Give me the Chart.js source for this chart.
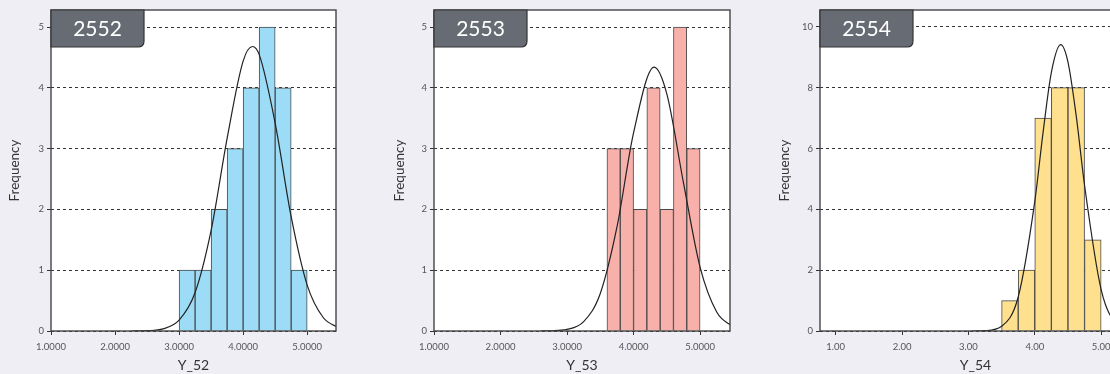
<!DOCTYPE html>
<html>
<head>
<meta charset="utf-8">
<script src="https://cdn.jsdelivr.net/npm/chart.js@4.4.1/dist/chart.umd.min.js"></script>
<style>
  html, body { margin: 0; padding: 0; background: #f0eef5; overflow: hidden; width: 1110px; height: 374px; }
  .panel { position: absolute; top: 0; width: 385px; height: 374px; }
</style>
</head>
<body>
<div class="panel" style="left:0px"><canvas id="c52"></canvas></div>
<div class="panel" style="left:385px"><canvas id="c53"></canvas></div>
<div class="panel" style="left:770px"><canvas id="c54"></canvas></div>
<script>
// histogram bins (lower edge), counts and the fitted curve
const years = ["2552", "2553", "2554"];
const axisNames = ["Y_52", "Y_53", "Y_54"];

const bins52 = [3.00, 3.25, 3.50, 3.75, 4.00, 4.25, 4.50, 4.75];
const counts52 = [1, 1, 2, 3, 4, 5, 4, 1];
const binWidth52 = 0.25;
const curveX52 = [2.26, 2.50, 2.75, 3.00, 3.25, 3.50, 3.75, 4.00, 4.145, 4.25, 4.50, 4.75, 5.00, 5.25, 5.50];
const curveY52 = [0.00, 0.005, 0.036, 0.178, 0.633, 1.655, 3.17, 4.44, 4.68, 4.55, 3.42, 1.88, 0.755, 0.222, 0.048];

const bins53 = [3.6, 3.8, 4.0, 4.2, 4.4, 4.6, 4.8];
const counts53 = [3, 3, 2, 4, 2, 5, 3];
const binWidth53 = 0.2;
const curveX53 = [2.60, 2.75, 3.00, 3.25, 3.50, 3.75, 4.00, 4.31, 4.50, 4.75, 5.00, 5.25, 5.50];
const curveY53 = [0.00, 0.003, 0.026, 0.154, 0.617, 1.707, 3.26, 4.34, 3.90, 2.44, 1.05, 0.313, 0.064];

const bins54 = [3.50, 3.75, 4.00, 4.25, 4.50, 4.75];
const counts54 = [1, 2, 7, 8, 8, 3];
const binWidth54 = 0.25;
const curveX54 = [3.05, 3.25, 3.50, 3.75, 4.00, 4.125, 4.25, 4.39, 4.50, 4.625, 4.75, 5.00, 5.25, 5.50];
const curveY54 = [0.00, 0.011, 0.153, 1.117, 4.26, 6.53, 8.50, 9.41, 8.84, 7.06, 4.79, 1.36, 0.201, 0.015];

const xTicks52 = [1, 2, 3, 4, 5];
const yTicks52 = [0, 1, 2, 3, 4, 5];
const xTicks53 = [1, 2, 3, 4, 5];
const yTicks53 = [0, 1, 2, 3, 4, 5];
const xTicks54 = [1, 2, 3, 4, 5];
const yTicks54 = [0, 2, 4, 6, 8, 10];

const FONT = "Lato, 'Noto Sans', sans-serif";

const framePlugin = {
  id: "frame",
  beforeDraw(chart) {
    const a = chart.chartArea, ctx = chart.ctx;
    ctx.save();
    ctx.fillStyle = "#ffffff";
    ctx.fillRect(a.left, a.top, a.right - a.left, a.bottom - a.top);
    ctx.restore();
  },
  afterDraw(chart, args, opts) {
    const a = chart.chartArea, ctx = chart.ctx;
    ctx.save();
    ctx.strokeStyle = "#444";
    ctx.lineWidth = 1.4;
    ctx.strokeRect(a.left, a.top, a.right - a.left, a.bottom - a.top);

    // year tag in the corner
    const w = 93, h = 37, r = 6;
    const x0 = a.left, y0 = a.top;
    ctx.beginPath();
    ctx.moveTo(x0, y0);
    ctx.lineTo(x0 + w, y0);
    ctx.lineTo(x0 + w, y0 + h - r);
    ctx.quadraticCurveTo(x0 + w, y0 + h, x0 + w - r, y0 + h);
    ctx.lineTo(x0, y0 + h);
    ctx.closePath();
    ctx.fillStyle = "#676c74";
    ctx.fill();
    ctx.strokeStyle = "#333";
    ctx.lineWidth = 1.2;
    ctx.stroke();
    ctx.fillStyle = "#ffffff";
    ctx.font = "21px " + FONT;
    ctx.textAlign = "center";
    ctx.textBaseline = "middle";
    ctx.fillText(opts.text, x0 + w / 2, y0 + h / 2 + 1);
    ctx.restore();
  }
};

function makeHist(id, p) {
  const bars = p.bins.map((b, i) => ({ x: b + p.w / 2, y: p.counts[i] }));
  const curve = p.cx.map((x, i) => ({ x: x, y: p.cy[i] }));
  new Chart(document.getElementById(id), {
    type: "bar",
    data: {
      datasets: [
        {
          type: "line",
          data: curve,
          borderColor: "#222",
          borderWidth: 1.2,
          pointRadius: 0,
          fill: false,
          cubicInterpolationMode: "monotone",
          order: 1
        },
        {
          type: "bar",
          data: bars,
          backgroundColor: p.color,
          borderColor: "#4a4a4a",
          borderWidth: 1,
          borderSkipped: "bottom",
          barPercentage: 1,
          categoryPercentage: 1,
          order: 2
        }
      ]
    },
    options: {
      responsive: true,
      maintainAspectRatio: false,
      animation: false,
      layout: { padding: { top: 10, right: p.padRight, left: 0, bottom: 0 } },
      plugins: {
        legend: { display: false },
        tooltip: { enabled: false },
        frame: { text: p.year }
      },
      scales: {
        x: {
          type: "linear",
          offset: false,
          min: p.xMin,
          max: p.xMax,
          afterBuildTicks: s => { s.ticks = p.xTicks.map(v => ({ value: v })); },
          afterFit: s => { s.height = 43; },
          grid: { offset: false, drawOnChartArea: false, drawTicks: true, tickLength: 4, color: "#333" },
          border: { display: false },
          ticks: {
            padding: 6,
            maxRotation: 0,
            color: "#555",
            font: { family: FONT, size: 9.5 },
            callback: v => Number(v).toFixed(p.dec)
          },
          title: {
            display: true,
            text: p.name,
            color: "#333",
            font: { family: FONT, size: 14 },
            padding: { top: 0, bottom: 0 }
          }
        },
        y: {
          min: 0,
          max: p.yMax,
          afterBuildTicks: s => { s.ticks = p.yTicks.map(v => ({ value: v })); },
          afterFit: s => { s.width = p.yw; },
          grid: { color: "#333", lineWidth: 1, drawTicks: true, tickLength: 4, tickColor: "#333", tickBorderDash: [] },
          border: { display: false, dash: [3, 3] },
          ticks: {
            padding: 3,
            color: "#555",
            font: { family: FONT, size: 9.5 },
            callback: v => String(v)
          },
          title: {
            display: true,
            text: "Frequency",
            color: "#333",
            font: { family: FONT, size: 13.5 },
            padding: { top: 7, bottom: 0 }
          }
        }
      }
    },
    plugins: [framePlugin]
  });
}

makeHist("c52", { year: years[0], name: axisNames[0], bins: bins52, counts: counts52, w: binWidth52,
  cx: curveX52, cy: curveY52, xTicks: xTicks52, yTicks: yTicks52, xMin: 1, xMax: 5.45, yMax: 5.28,
  dec: 4, color: "#9ddcf7", yw: 51, padRight: 49 });
makeHist("c53", { year: years[1], name: axisNames[1], bins: bins53, counts: counts53, w: binWidth53,
  cx: curveX53, cy: curveY53, xTicks: xTicks53, yTicks: yTicks53, xMin: 1, xMax: 5.45, yMax: 5.28,
  dec: 4, color: "#f8b0ab", yw: 49, padRight: 40 });
makeHist("c54", { year: years[2], name: axisNames[2], bins: bins54, counts: counts54, w: binWidth54,
  cx: curveX54, cy: curveY54, xTicks: xTicks54, yTicks: yTicks54, xMin: 0.763, xMax: 5.45, yMax: 10.55,
  dec: 2, color: "#fee08f", yw: 50, padRight: 24 });
</script>
</body>
</html>
